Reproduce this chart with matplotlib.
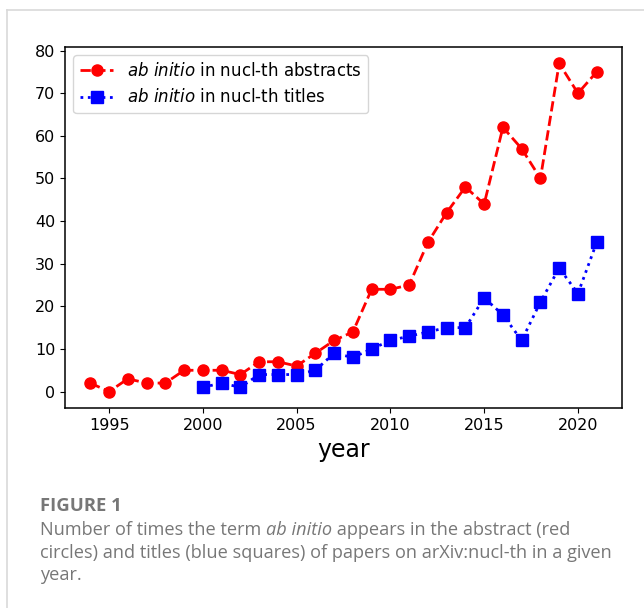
import matplotlib
matplotlib.use("Agg")
import matplotlib.pyplot as plt
from matplotlib.lines import Line2D

years_abs = [1994, 1995, 1996, 1997, 1998, 1999, 2000, 2001, 2002, 2003, 2004, 2005, 2006, 2007,
             2008, 2009, 2010, 2011, 2012, 2013, 2014, 2015, 2016, 2017, 2018, 2019, 2020, 2021]
abstracts = [2, 0, 3, 2, 2, 5, 5, 5, 4, 7, 7, 6, 9, 12, 14, 24, 24, 25, 35, 42, 48, 44, 62, 57, 50, 77, 70, 75]
years_tit = [2000, 2001, 2002, 2003, 2004, 2005, 2006, 2007, 2008, 2009, 2010, 2011, 2012, 2013,
             2014, 2015, 2016, 2017, 2018, 2019, 2020, 2021]
titles = [1, 2, 1, 4, 4, 4, 5, 9, 8, 10, 12, 13, 14, 15, 15, 22, 18, 12, 21, 29, 23, 35]
xticks = [1995, 2000, 2005, 2010, 2015, 2020]
yticks = [0, 10, 20, 30, 40, 50, 60, 70, 80]

W, H = 644, 608
fig = plt.figure(figsize=(W / 100, H / 100), dpi=100)

# card border
fig.add_artist(Line2D([7 / W, 1.0], [1 - 10 / H, 1 - 10 / H], color="#d9d9d9", lw=1.2))
fig.add_artist(Line2D([7 / W, 7 / W], [0, 1 - 10 / H], color="#d9d9d9", lw=1.2))

ax = fig.add_axes([65 / W, 1 - 408 / H, 557 / W, 361 / H])
ax.plot(years_abs, abstracts, "r--o", ms=8, lw=2, label=r"$\it{ab\ initio}$ in nucl-th abstracts")
ax.plot(years_tit, titles, "b:s", ms=8, lw=2, label=r"$\it{ab\ initio}$ in nucl-th titles")
ax.set_xticks(xticks)
ax.set_yticks(yticks)
ax.tick_params(labelsize=11.5)
for s in ax.spines.values():
    s.set_linewidth(1.1)
ax.set_xlabel("year", fontsize=17)
leg = ax.legend(loc="upper left", fontsize=12, handlelength=2.0)

# caption
cap_color = "#777777"
fig.text(40 / W, 1 - 511 / H, "FIGURE 1", fontsize=13.3, fontweight="bold", color=cap_color,
         family="Open Sans", va="baseline")

def seg_line(y, parts):
    fig.canvas.draw()
    r = fig.canvas.get_renderer()
    x = 40 / W
    for txt, style in parts:
        t = fig.text(x, 1 - y / H, txt, fontsize=13.1, color=cap_color, family="Open Sans",
                     style=style, va="baseline")
        bb = t.get_window_extent(renderer=r)
        x += bb.width / W

seg_line(535, [("Number of times the term ", "normal"), ("ab initio", "italic"),
               (" appears in the abstract (red", "normal")])
seg_line(558, [("circles) and titles (blue squares) of papers on arXiv:nucl-th in a given", "normal")])
seg_line(580, [("year.", "normal")])

fig.savefig("out.png", dpi=100)
